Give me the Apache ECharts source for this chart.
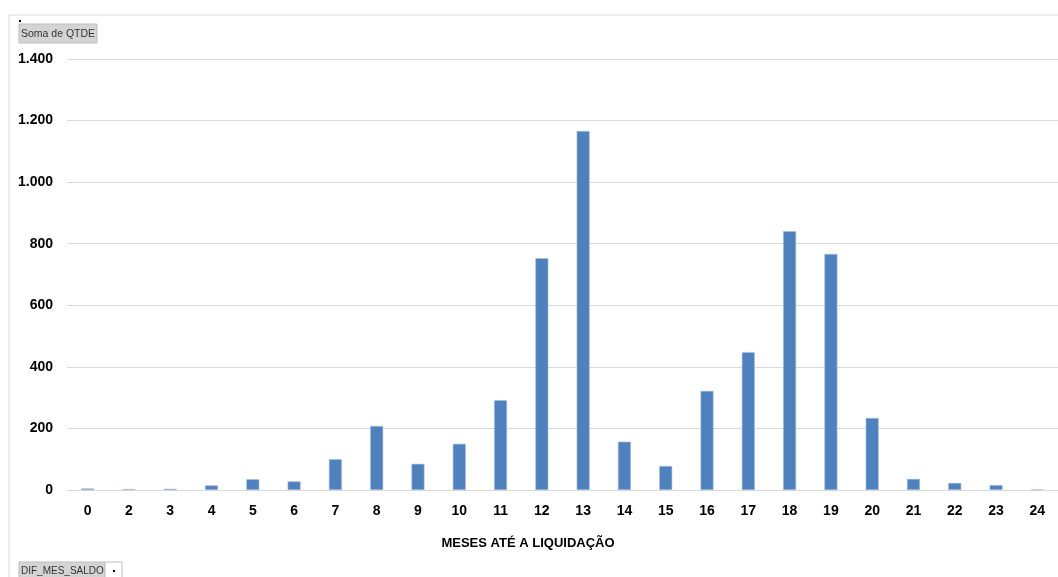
<!DOCTYPE html>
<html><head><meta charset="utf-8">
<script src="https://cdn.jsdelivr.net/npm/echarts@6/dist/echarts.min.js"></script>
<style>html,body{margin:0;padding:0;background:#fff}#c{width:1058px;height:577px}</style>
</head><body><div id="c"></div>
<script>
const categories = ['0','2','3','4','5','6','7','8','9','10','11','12','13','14','15','16','17','18','19','20','21','22','23','24'];
const values = [5,3,4,15,35,28,100,208,85,150,292,753,1166,157,78,322,448,841,767,234,36,23,16,2];
const yTicks = [0,200,400,600,800,1000,1200,1400];
const axisTitle = 'MESES ATÉ A LIQUIDAÇÃO';
const valueField = 'Soma de QTDE';
const categoryField = 'DIF_MES_SALDO';

const fmt = v => String(v).replace(/\B(?=(\d{3})+(?!\d))/g, '.');
const chart = echarts.init(document.getElementById('c'));
const F = 'Liberation Sans, Arial, sans-serif';
chart.setOption({
  animation: false,
  grid: {left: 67, right: 0, top: 59, bottom: 87, containLabel: false},
  xAxis: {
    type: 'category', data: categories,
    axisLine: {show: true, lineStyle: {color: '#D9D9D9', width: 1}},
    axisTick: {show: false},
    axisLabel: {fontFamily: F, fontWeight: 'bold', fontSize: 14, color: '#000', margin: 14}
  },
  yAxis: {
    type: 'value', min: yTicks[0], max: yTicks[yTicks.length-1], interval: 200,
    axisLine: {show: false}, axisTick: {show: false},
    splitLine: {lineStyle: {color: '#D9D9D9', width: 1}},
    axisLabel: {fontFamily: F, fontWeight: 'bold', fontSize: 14, color: '#000', margin: 14, formatter: fmt}
  },
  series: [{
    type: 'bar', data: values, barWidth: 13,
    itemStyle: {color: '#4F81BD', borderColor: '#A7BFDE', borderWidth: 0.6}
  }],
  graphic: [
    {type: 'polyline', shape: {points: [[9,577],[9,15],[1058,15]]}, style: {stroke: '#D9D9D9', fill: null, lineWidth: 1}},
    {type: 'text', x: 528, y: 543, style: {text: axisTitle, fontFamily: F, fontWeight: 'bold', fontSize: 13, fill: '#000', align: 'center', verticalAlign: 'middle'}},
    {type: 'rect', shape: {x: 19, y: 24, width: 78, height: 19}, style: {fill: '#D4D4D4', stroke: '#BFBFBF', lineWidth: 1}},
    {type: 'text', x: 21, y: 29, style: {text: valueField, fontFamily: F, fontSize: 10.5, fill: '#333'}},
    {type: 'rect', shape: {x: 19, y: 20, width: 2, height: 2}, style: {fill: '#000'}},
    {type: 'rect', shape: {x: 19, y: 562, width: 86, height: 18}, style: {fill: '#D4D4D4', stroke: '#BFBFBF', lineWidth: 1}},
    {type: 'text', x: 21, y: 566, style: {text: categoryField, fontFamily: F, fontSize: 10, fill: '#333'}},
    {type: 'rect', shape: {x: 105, y: 562, width: 17, height: 18}, style: {fill: '#fff', stroke: '#BFBFBF', lineWidth: 1}},
    {type: 'rect', shape: {x: 113, y: 570, width: 2, height: 2}, style: {fill: '#000'}}
  ]
});
</script></body></html>
